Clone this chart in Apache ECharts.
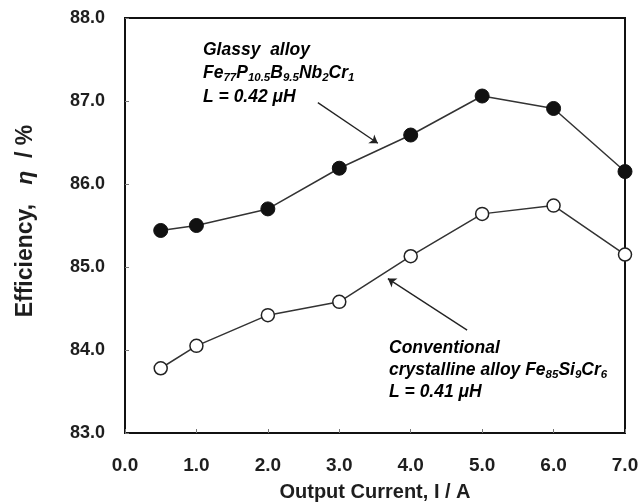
<!DOCTYPE html>
<html>
<head>
<meta charset="utf-8">
<script src="https://cdn.jsdelivr.net/npm/echarts@6/dist/echarts.min.js"></script>
<style>html,body{margin:0;padding:0;background:#fff}#c{width:642px;height:503px}</style>
</head>
<body>
<div id="c"></div>
<script>
const currents = [0.5, 1.0, 2.0, 3.0, 4.0, 5.0, 6.0, 7.0];
const glassyEff = [85.44, 85.50, 85.70, 86.19, 86.59, 87.06, 86.91, 86.15];
const crystEff = [83.78, 84.05, 84.42, 84.58, 85.13, 85.64, 85.74, 85.15];
const arrowGlassy = [[2.70, 86.98], [3.54, 86.49]];
const arrowCryst = [[4.79, 84.24], [3.68, 84.86]];

const FONT = '"Liberation Sans", Arial, sans-serif';
const txtColor = '#1e1e1e';

const chart = echarts.init(document.getElementById('c'));
const subRich = {
  n: {fontFamily: FONT, fontWeight: 'bold', fontStyle: 'italic', fontSize: 17.5, color: txtColor},
  s: {fontFamily: FONT, fontWeight: 'bold', fontStyle: 'italic', fontSize: 11.5, color: txtColor, verticalAlign: 'bottom', padding: [9, 0, 0, 0]}
};
const annot = (x, y, text) => ({type: 'text', x: x, y: y, z: 10,
  style: {text: text, rich: subRich, align: 'left', verticalAlign: 'middle'}});

chart.setOption({
  animation: false,
  backgroundColor: '#fff',
  grid: {left: 125, right: 17, top: 18, bottom: 70, show: true, borderColor: '#111', borderWidth: 2,
    containLabel: false, outerBoundsMode: 'none'},
  xAxis: {
    type: 'value', min: 0, max: 7, interval: 1,
    name: 'Output Current, I / A', nameLocation: 'middle', nameGap: 49,
    nameTextStyle: {fontFamily: FONT, fontWeight: 'bold', fontSize: 20, color: txtColor},
    axisLine: {lineStyle: {color: '#111', width: 2}},
    axisTick: {inside: true, length: 4, lineStyle: {color: '#777'}},
    axisLabel: {formatter: v => v.toFixed(1), fontFamily: FONT, fontWeight: 'bold', fontSize: 19, color: txtColor, margin: 23},
    splitLine: {show: false}
  },
  yAxis: {
    type: 'value', min: 83, max: 88, interval: 1,
    name: 'Efficiency,   {i|η}  / %', nameLocation: 'middle', nameGap: 88, nameRotate: 90,
    nameTextStyle: {fontFamily: FONT, fontWeight: 'bold', fontSize: 23, color: txtColor, padding: [0, 0, 0, 9],
      rich: {i: {fontFamily: FONT, fontStyle: 'italic', fontSize: 23, color: txtColor}}},
    axisLine: {lineStyle: {color: '#111', width: 2}},
    axisTick: {inside: true, length: 4, lineStyle: {color: '#777'}},
    axisLabel: {formatter: v => v.toFixed(1), fontFamily: FONT, fontWeight: 'bold', fontSize: 18, color: txtColor, margin: 20},
    splitLine: {show: false}
  },
  series: [
    {
      type: 'line', name: 'Glassy',
      data: currents.map((x, i) => [x, glassyEff[i]]),
      symbol: 'circle', symbolSize: 14,
      lineStyle: {color: '#333', width: 1.5},
      itemStyle: {color: '#111', borderColor: '#111', borderWidth: 1},
      markLine: {
        silent: true, symbol: ['none', 'arrow'], symbolSize: 8,
        lineStyle: {color: '#222', width: 1.3, type: 'solid'}, label: {show: false},
        data: [[{coord: arrowGlassy[0]}, {coord: arrowGlassy[1]}]]
      },
      z: 3
    },
    {
      type: 'line', name: 'Crystalline',
      data: currents.map((x, i) => [x, crystEff[i]]),
      symbol: 'circle', symbolSize: 13,
      lineStyle: {color: '#333', width: 1.5},
      itemStyle: {color: '#fff', borderColor: '#222', borderWidth: 1.5},
      markLine: {
        silent: true, symbol: ['none', 'arrow'], symbolSize: 8,
        lineStyle: {color: '#222', width: 1.3, type: 'solid'}, label: {show: false},
        data: [[{coord: arrowCryst[0]}, {coord: arrowCryst[1]}]]
      },
      z: 3
    }
  ],
  graphic: [
    annot(203, 50, '{n|Glassy  alloy}'),
    annot(203, 73, '{n|Fe}{s|77}{n|P}{s|10.5}{n|B}{s|9.5}{n|Nb}{s|2}{n|Cr}{s|1}'),
    annot(203, 97, '{n|L = 0.42 μH}'),
    annot(389, 348, '{n|Conventional}'),
    annot(389, 370, '{n|crystalline alloy Fe}{s|85}{n|Si}{s|9}{n|Cr}{s|6}'),
    annot(389, 392, '{n|L = 0.41 μH}')
  ]
});
</script>
</body>
</html>
